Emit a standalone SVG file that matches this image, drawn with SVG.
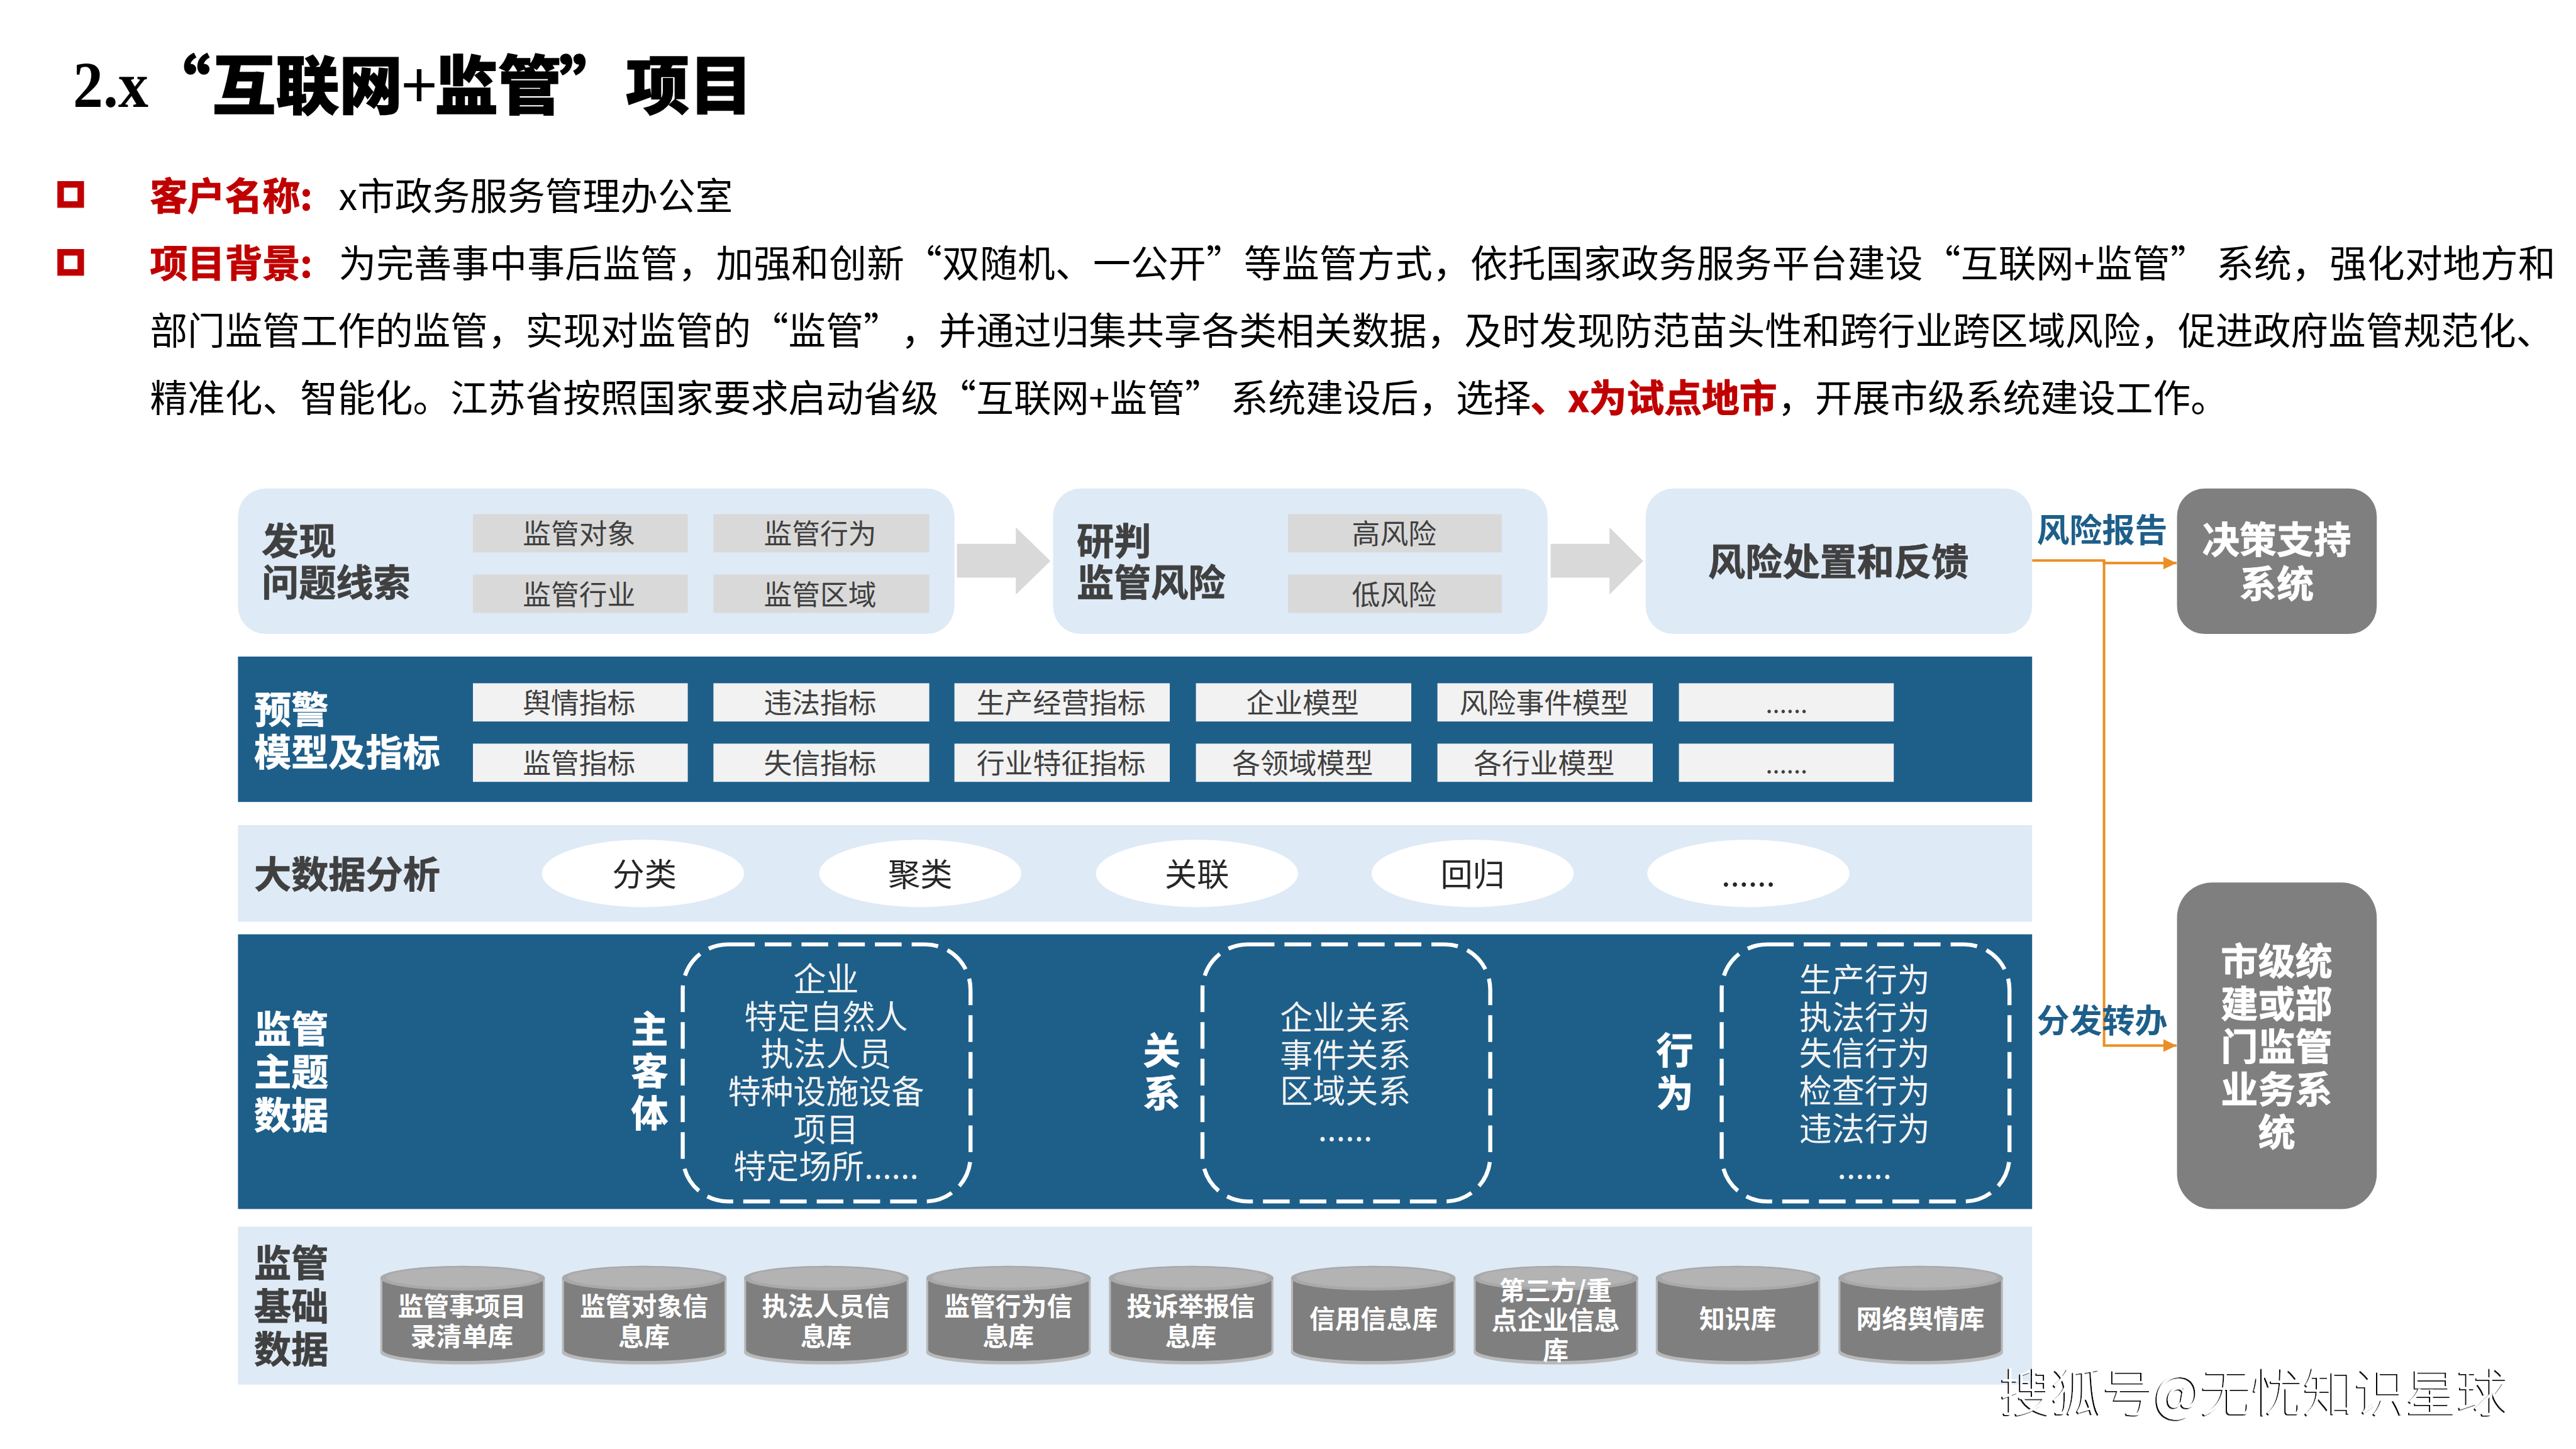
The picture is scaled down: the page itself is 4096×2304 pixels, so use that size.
<svg xmlns="http://www.w3.org/2000/svg" width="4096" height="2304" viewBox="0 0 4096 2304">
<style>
text{font-family:"Noto Sans CJK SC","Liberation Sans",sans-serif;text-spacing-trim:space-all}
.b{font-size:74.67px;fill:#000}
.r{font-size:74.67px;fill:#c00000;font-weight:700;stroke:#c00000;stroke-width:1.5}
.h{font-size:74px;font-weight:700;fill:#404040;stroke:#404040;stroke-width:1}
.w{font-size:74px;font-weight:700;fill:#fff;stroke:#fff;stroke-width:1}
.m{text-anchor:middle}
.s{font-size:56px;fill:#404040;text-anchor:middle}
.e{font-size:64px;fill:#262626;text-anchor:middle}
.t{font-size:65px;fill:#f2f2f2;text-anchor:middle}
.c{font-size:51px;font-weight:700;fill:#fff;text-anchor:middle}
.l{font-size:65px;font-weight:700;fill:#1e5f8a;text-anchor:middle}
.card{fill:#deeaf6}
.dark{fill:#1e5f8a}
.gb{fill:#d9d9d9}
.wb{fill:#f2f2f2}
.sys{fill:#7f7f7f}
.dash{fill:none;stroke:#fff;stroke-width:8;stroke-dasharray:53 20}
.bul{fill:none;stroke:#c00000;stroke-width:13}
.or{fill:none;stroke:#ea8f24;stroke-width:5}
</style>
<defs>
<marker id="ah" markerUnits="userSpaceOnUse" markerWidth="27" markerHeight="26" refX="26" refY="12.5" orient="auto"><path d="M0 0L26 12.5L0 25Z" fill="#ea8f24"/></marker>
<filter id="wm" x="-2%" y="-5%" width="104%" height="110%"><feDropShadow dx="-2.5" dy="2" stdDeviation="0" flood-color="#000"/></filter>
<g id="cyl">
<path d="M0 24A163.5 24 0 0 1 327 24V172A163.5 24 0 0 1 0 172Z" fill="#b8b8b8"/>
<path d="M4 26H323V167A159.5 22 0 0 1 4 167Z" fill="#7f7f7f"/>
<ellipse cx="163.5" cy="24.5" rx="163.5" ry="24.5" fill="#a9a9a9"/>
<ellipse cx="163.5" cy="23" rx="152" ry="20" fill="#b3b3b3"/>
</g>
</defs>
<rect width="4096" height="2304" fill="#fff"/>
<g transform="scale(0.8)">
<g id="title">
<text y="212" x="145" textLength="150" lengthAdjust="spacingAndGlyphs" style="font-size:130px;font-weight:700;font-family:'Liberation Serif',serif">2.x</text>
<text y="216" style="font-size:126px;font-weight:900" stroke="#000" stroke-width="2"><tspan x="292">“</tspan><tspan x="422">互联网</tspan><tspan x="798" style="font-weight:400" stroke-width="0">+</tspan><tspan x="864">监管</tspan><tspan x="1112">”</tspan><tspan x="1244">项目</tspan></text>
</g>
<g id="intro">
<rect class="bul" x="120.500" y="366.500" width="40" height="40"/>
<rect class="bul" x="120.500" y="501.500" width="40" height="40"/>
<text class="r" x="298" y="417">客户名称:</text>
<text class="b" x="673" y="417">x市政务服务管理办公室</text>
<text class="r" x="298" y="551">项目背景:</text>
<text class="b" x="673" y="551" style="letter-spacing:.33px">为完善事中事后监管，加强和创新“双随机、一公开”等监管方式，依托国家政务服务平台建设“互联网+监管”<tspan x="4405">系统，强化对地方和</tspan></text>
<text class="b" x="298" y="685">部门监管工作的监管，实现对监管的“监管”，并通过归集共享各类相关数据，及时发现防范苗头性和跨行业跨区域风险，促进政府监管规范化、</text>
<text class="b" x="298" y="819">精准化、智能化。江苏省按照国家要求启动省级“互联网+监管”<tspan x="2446">系统建设后，选择</tspan><tspan class="r" x="3042">、x为试点地市</tspan><tspan x="3533">，开展市级系统建设工作。</tspan></text>
</g>
<g id="connectors">
<path class="gb" d="M1902 1081H2019V1048L2088 1115L2019 1182V1148H1902Z"/>
<path class="gb" d="M3082 1081H3199V1048L3266 1115L3199 1182V1148H3082Z"/>
<path class="or" marker-end="url(#ah)" d="M4039 1114H4182V1119H4326"/>
<path class="or" marker-end="url(#ah)" d="M4182 1114V2078H4326"/>
</g>
<g id="node-discover">
<rect class="card" x="473" y="971" width="1424" height="289" rx="55"/>
<text class="h" x="520" y="1103">发现</text>
<text class="h" x="520" y="1185">问题线索</text>
<rect class="gb" x="940" y="1022" width="427" height="76"/><text class="s" x="1151" y="1081">监管对象</text>
<rect class="gb" x="1418" y="1022" width="429" height="76"/><text class="s" x="1630" y="1081">监管行为</text>
<rect class="gb" x="940" y="1142" width="427" height="76"/><text class="s" x="1151" y="1202">监管行业</text>
<rect class="gb" x="1418" y="1142" width="429" height="76"/><text class="s" x="1630" y="1202">监管区域</text>
</g>
<g id="node-assess">
<rect class="card" x="2093" y="971" width="983" height="289" rx="55"/>
<text class="h" x="2140" y="1103">研判</text>
<text class="h" x="2140" y="1185">监管风险</text>
<rect class="gb" x="2560" y="1022" width="425" height="76"/><text class="s" x="2771" y="1081">高风险</text>
<rect class="gb" x="2560" y="1142" width="425" height="76"/><text class="s" x="2771" y="1202">低风险</text>
</g>
<g id="node-dispose">
<rect class="card" x="3271" y="971" width="768" height="289" rx="55"/>
<text class="h m" x="3654" y="1144">风险处置和反馈</text>
</g>
<g id="node-decision">
<rect class="sys" x="4327" y="971" width="397" height="289" rx="55"/>
<text class="w m" x="4525" y="1100">决策支持</text>
<text class="w m" x="4525" y="1187">系统</text>
</g>
<g id="node-city">
<rect class="sys" x="4327" y="1754" width="397" height="649" rx="70"/>
<text class="w m" x="4525" y="1937">市级统</text>
<text class="w m" x="4525" y="2022">建或部</text>
<text class="w m" x="4525" y="2107">门监管</text>
<text class="w m" x="4525" y="2192">业务系</text>
<text class="w m" x="4525" y="2277">统</text>
</g>
<g id="labels">
<text class="l" x="4178" y="1077">风险报告</text>
<text class="l" x="4178" y="2052">分发转办</text>
</g>
<g id="node-warning">
<rect class="dark" x="473" y="1305" width="3566" height="289"/>
<text class="w" x="505" y="1438">预警</text>
<text class="w" x="505" y="1523">模型及指标</text>
<rect class="wb" x="940" y="1358" width="427" height="76"/><text class="s" x="1151" y="1417">舆情指标</text>
<rect class="wb" x="1418" y="1358" width="429" height="76"/><text class="s" x="1630" y="1417">违法指标</text>
<rect class="wb" x="1897" y="1358" width="428" height="76"/><text class="s" x="2109" y="1417">生产经营指标</text>
<rect class="wb" x="2377" y="1358" width="428" height="76"/><text class="s" x="2589" y="1417">企业模型</text>
<rect class="wb" x="2857" y="1358" width="428" height="76"/><text class="s" x="3069" y="1417">风险事件模型</text>
<rect class="wb" x="3337" y="1358" width="427" height="76"/><text class="s" x="3551" y="1416" style="font-size:50px">......</text>
<rect class="wb" x="940" y="1478" width="427" height="76"/><text class="s" x="1151" y="1538">监管指标</text>
<rect class="wb" x="1418" y="1478" width="429" height="76"/><text class="s" x="1630" y="1538">失信指标</text>
<rect class="wb" x="1897" y="1478" width="428" height="76"/><text class="s" x="2109" y="1538">行业特征指标</text>
<rect class="wb" x="2377" y="1478" width="428" height="76"/><text class="s" x="2589" y="1538">各领域模型</text>
<rect class="wb" x="2857" y="1478" width="428" height="76"/><text class="s" x="3069" y="1538">各行业模型</text>
<rect class="wb" x="3337" y="1478" width="427" height="76"/><text class="s" x="3551" y="1536" style="font-size:50px">......</text>
</g>
<g id="node-bigdata">
<rect class="card" x="473" y="1640" width="3566" height="192"/>
<text class="h" x="505" y="1765">大数据分析</text>
<ellipse fill="#fff" cx="1278" cy="1736" rx="201" ry="67"/><text class="e" x="1281" y="1761">分类</text>
<ellipse fill="#fff" cx="1829" cy="1736" rx="201" ry="67"/><text class="e" x="1829" y="1761">聚类</text>
<ellipse fill="#fff" cx="2379" cy="1736" rx="201" ry="67"/><text class="e" x="2379" y="1761">关联</text>
<ellipse fill="#fff" cx="2927" cy="1736" rx="201" ry="67"/><text class="e" x="2927" y="1761">回归</text>
<ellipse fill="#fff" cx="3475" cy="1736" rx="201" ry="67"/><text class="e" x="3475" y="1761">......</text>
</g>
<g id="node-theme">
<rect class="dark" x="473" y="1857" width="3566" height="546"/>
<text class="w" x="505" y="2072">监管</text>
<text class="w" x="505" y="2157">主题</text>
<text class="w" x="505" y="2244">数据</text>
<text class="w m" x="1291" y="2072">主</text>
<text class="w m" x="1291" y="2156">客</text>
<text class="w m" x="1291" y="2240">体</text>
<rect class="dash" x="1357" y="1877" width="572" height="511" rx="90"/>
<text class="t" x="1642" y="1970">企业</text>
<text class="t" x="1642" y="2045">特定自然人</text>
<text class="t" x="1642" y="2119">执法人员</text>
<text class="t" x="1642" y="2194">特种设施设备</text>
<text class="t" x="1642" y="2269">项目</text>
<text class="t" x="1642" y="2343">特定场所......</text>
<text class="w m" x="2309" y="2115">关</text>
<text class="w m" x="2309" y="2200">系</text>
<rect class="dash" x="2390" y="1877" width="572" height="511" rx="90"/>
<text class="t" x="2674" y="2046">企业关系</text>
<text class="t" x="2674" y="2121">事件关系</text>
<text class="t" x="2674" y="2193">区域关系</text>
<text class="t" x="2674" y="2268">......</text>
<text class="w m" x="3329" y="2115">行</text>
<text class="w m" x="3329" y="2200">为</text>
<rect class="dash" x="3422" y="1877" width="572" height="511" rx="90"/>
<text class="t" x="3706" y="1971">生产行为</text>
<text class="t" x="3706" y="2046">执法行为</text>
<text class="t" x="3706" y="2118">失信行为</text>
<text class="t" x="3706" y="2193">检查行为</text>
<text class="t" x="3706" y="2268">违法行为</text>
<text class="t" x="3706" y="2343">......</text>
</g>
<g id="node-base">
<rect class="card" x="473" y="2438" width="3566" height="314"/>
<text class="h" x="505" y="2537">监管</text>
<text class="h" x="505" y="2624">基础</text>
<text class="h" x="505" y="2709">数据</text>
<use href="#cyl" x="756" y="2516"/><text class="c" x="918" y="2615">监管事项目</text><text class="c" x="918" y="2675">录清单库</text>
<use href="#cyl" x="1117" y="2516"/><text class="c" x="1280" y="2615">监管对象信</text><text class="c" x="1280" y="2675">息库</text>
<use href="#cyl" x="1479" y="2516"/><text class="c" x="1642" y="2615">执法人员信</text><text class="c" x="1642" y="2675">息库</text>
<use href="#cyl" x="1841" y="2516"/><text class="c" x="2004" y="2615">监管行为信</text><text class="c" x="2004" y="2675">息库</text>
<use href="#cyl" x="2204" y="2516"/><text class="c" x="2367" y="2615">投诉举报信</text><text class="c" x="2367" y="2675">息库</text>
<use href="#cyl" x="2566" y="2516"/><text class="c" x="2730" y="2640">信用信息库</text>
<use href="#cyl" x="2929" y="2516"/><text class="c" x="3092" y="2584">第三方/重</text><text class="c" x="3092" y="2643">点企业信息</text><text class="c" x="3092" y="2702">库</text>
<use href="#cyl" x="3291" y="2516"/><text class="c" x="3454" y="2640">知识库</text>
<use href="#cyl" x="3654" y="2516"/><text class="c" x="3817" y="2640">网络舆情库</text>
</g>
<g id="watermark">
<text x="3975" y="2805" filter="url(#wm)" style="font-size:102px;font-weight:300;fill:#fff">搜狐号@无忧知识星球</text>
</g>
</g>
</svg>
